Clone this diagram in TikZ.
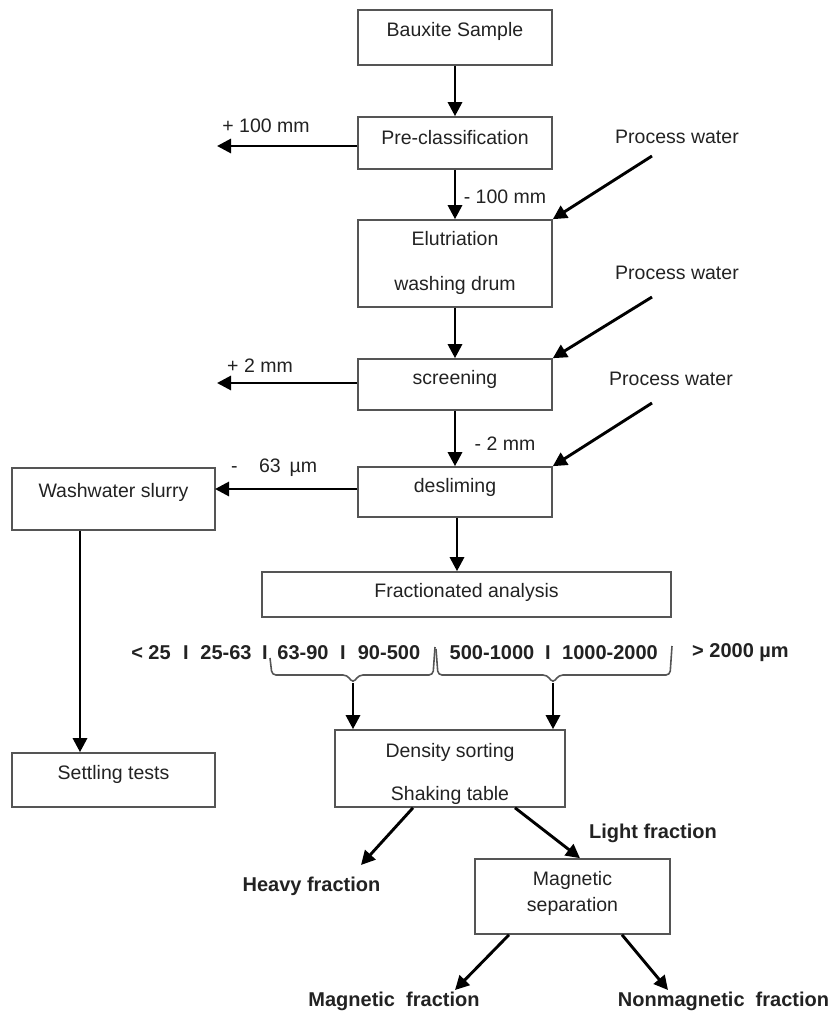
\documentclass[tikz,border=0pt]{standalone}
\usepackage{fontspec}
\setmainfont{Liberation Sans}
\usetikzlibrary{arrows.meta}

\definecolor{boxgray}{HTML}{555555}
\definecolor{txt}{HTML}{222222}

\tikzset{
  box/.style={draw=boxgray, line width=1.6pt, inner sep=0pt, minimum width=194pt, text=txt, align=center},
  flow/.style={line width=2.9pt, -{Triangle[length=14pt,width=14pt]}},
  lbl/.style={text=txt, inner sep=0pt},
  sizerow/.style={text=txt, inner sep=0pt, font=\bfseries\fontsize{20}{24}\selectfont},
  bracket/.style={draw=boxgray, line width=1.6pt, rounded corners=4pt},
}

\begin{document}
\begin{tikzpicture}[x=1pt, y=-1pt, every node/.append style={font=\fontsize{19.5}{23.4}\selectfont}]
            \useasboundingbox (0,0) rectangle (831,1015);
            % Nodes
            \node[box, text height=26pt, text depth=29pt] (bauxite) at (455,37.5) {Bauxite Sample};
            \node[box, text height=27pt, text depth=25pt] (precl) at (455,143) {Pre-classification};
            \node[box, text height=70pt, text depth=17pt] (elut) at (455,263.5) {Elutriation\\[21.6pt]washing drum};
            \node[box, text height=25pt, text depth=26pt] (screen) at (455,384.5) {screening};
            \node[box, text height=25pt, text depth=25pt] (deslime) at (455,492) {desliming};
            \node[box, minimum width=409pt, text height=25pt, text depth=20pt] (fracan) at (466.5,594.5) {Fractionated analysis};
            \node[box, minimum width=203pt, text height=29pt, text depth=33pt] (wash) at (113.5,499) {Washwater slurry};
            \node[box, minimum width=203pt, text height=26pt, text depth=28pt] (settle) at (113.5,780) {Settling tests};
            \node[box, minimum width=230pt, text height=70pt, text depth=7pt] (dens) at (450,768.5) {Density sorting\\[19.6pt]Shaking table};
            \node[box, minimum width=195pt, text height=52pt, text depth=23pt] (mag) at (572.5,896.5) {Magnetic\\[2.6pt]separation};
            % Labels
            \node[lbl] (plus100) at (266,126) {+ 100 mm};
            \node[lbl] (minus100) at (505,197) {- 100 mm};
            \node[lbl] (plus2) at (260,366) {+ 2 mm};
            \node[lbl] (minus2) at (505,444) {- 2 mm};
            \node[lbl, anchor=west] (minus63) at (231,468) {-\hspace{1.1em}63\hspace{0.45em}µm};
            \node[lbl] (water1) at (677,137) {Process water};
            \node[lbl] (water2) at (677,273) {Process water};
            \node[lbl] (water3) at (671,379) {Process water};
            % Size classes
            \node[sizerow] (sz1) at (151,653) {< 25};
            \node[sizerow] (sep1) at (186,653) {I};
            \node[sizerow] (sz2) at (226,653) {25-63};
            \node[sizerow] (sep2) at (265,653) {I};
            \node[sizerow] (sz3) at (303,653) {63-90};
            \node[sizerow] (sep3) at (343,653) {I};
            \node[sizerow] (sz4) at (389,653) {90-500};
            \node[sizerow] (sz5) at (492,653) {500-1000};
            \node[sizerow] (sep4) at (548,653) {I};
            \node[sizerow] (sz6) at (610,653) {1000-2000};
            \node[sizerow, anchor=west] (sz7) at (692,653) {> 2000 µm};
            % Products
            \node[sizerow] (heavy) at (311.5,886) {Heavy fraction};
            \node[sizerow] (light) at (653,833) {Light fraction};
            \node[sizerow] (magfr) at (394,1001) {Magnetic\ \ fraction};
            \node[sizerow] (nonmag) at (723.5,1001) {Nonmagnetic\ \ fraction};
            % Free ends
            \coordinate (over100) at (217,146);
            \coordinate (over2) at (217,383);
            \coordinate (fine) at (215,489);
            \coordinate (pw1) at (652,156);
            \coordinate (pw2) at (652,297);
            \coordinate (pw3) at (652,403);
            \coordinate (tipL) at (353,683);
            \coordinate (tipR) at (553,683);
            \coordinate (heavyend) at (361,865);
            \coordinate (magend) at (455,990);
            \coordinate (nonmagend) at (668,990);
            % Braces
            \draw[bracket] (270,658) -- (272,675) -- (347,675) -- (tipL) -- (359,675) -- (433,675) -- (435,647);
            \draw[bracket] (436,649) -- (438,675) -- (547,675) -- (tipR) -- (559,675) -- (670,675) -- (672,646);
            % Edges
            \draw[flow] (bauxite) -- (precl);
            \draw[flow] (precl) -- (elut);
            \draw[flow] (elut) -- (screen);
            \draw[flow] (screen) -- (deslime);
            \draw[flow] ([xshift=2pt]deslime.south) -- ([xshift=2pt]deslime.south |- fracan.north);
            \draw[flow] (precl.west |- over100) -- (over100);
            \draw[flow] (screen.west |- over2) -- (over2);
            \draw[flow] (deslime.west |- fine) -- (fine);
            \draw[flow] ([xshift=-33.5pt]wash.south) -- ([xshift=-33.5pt]settle.north);
            \draw[flow] (pw1) -- (elut.north east);
            \draw[flow] (pw2) -- (screen.north east);
            \draw[flow] (pw3) -- (deslime.north east);
            \draw[flow] (tipL) -- (tipL |- dens.north);
            \draw[flow] (tipR) -- (tipR |- dens.north);
            \draw[flow] ([xshift=-37pt]dens.south) -- (heavyend);
            \draw[flow] ([xshift=65pt]dens.south) -- ([xshift=7.5pt]mag.north);
            \draw[flow] ([xshift=-63.5pt]mag.south) -- (magend);
            \draw[flow] ([xshift=49.5pt]mag.south) -- (nonmagend);
        \end{tikzpicture}
\end{document}
